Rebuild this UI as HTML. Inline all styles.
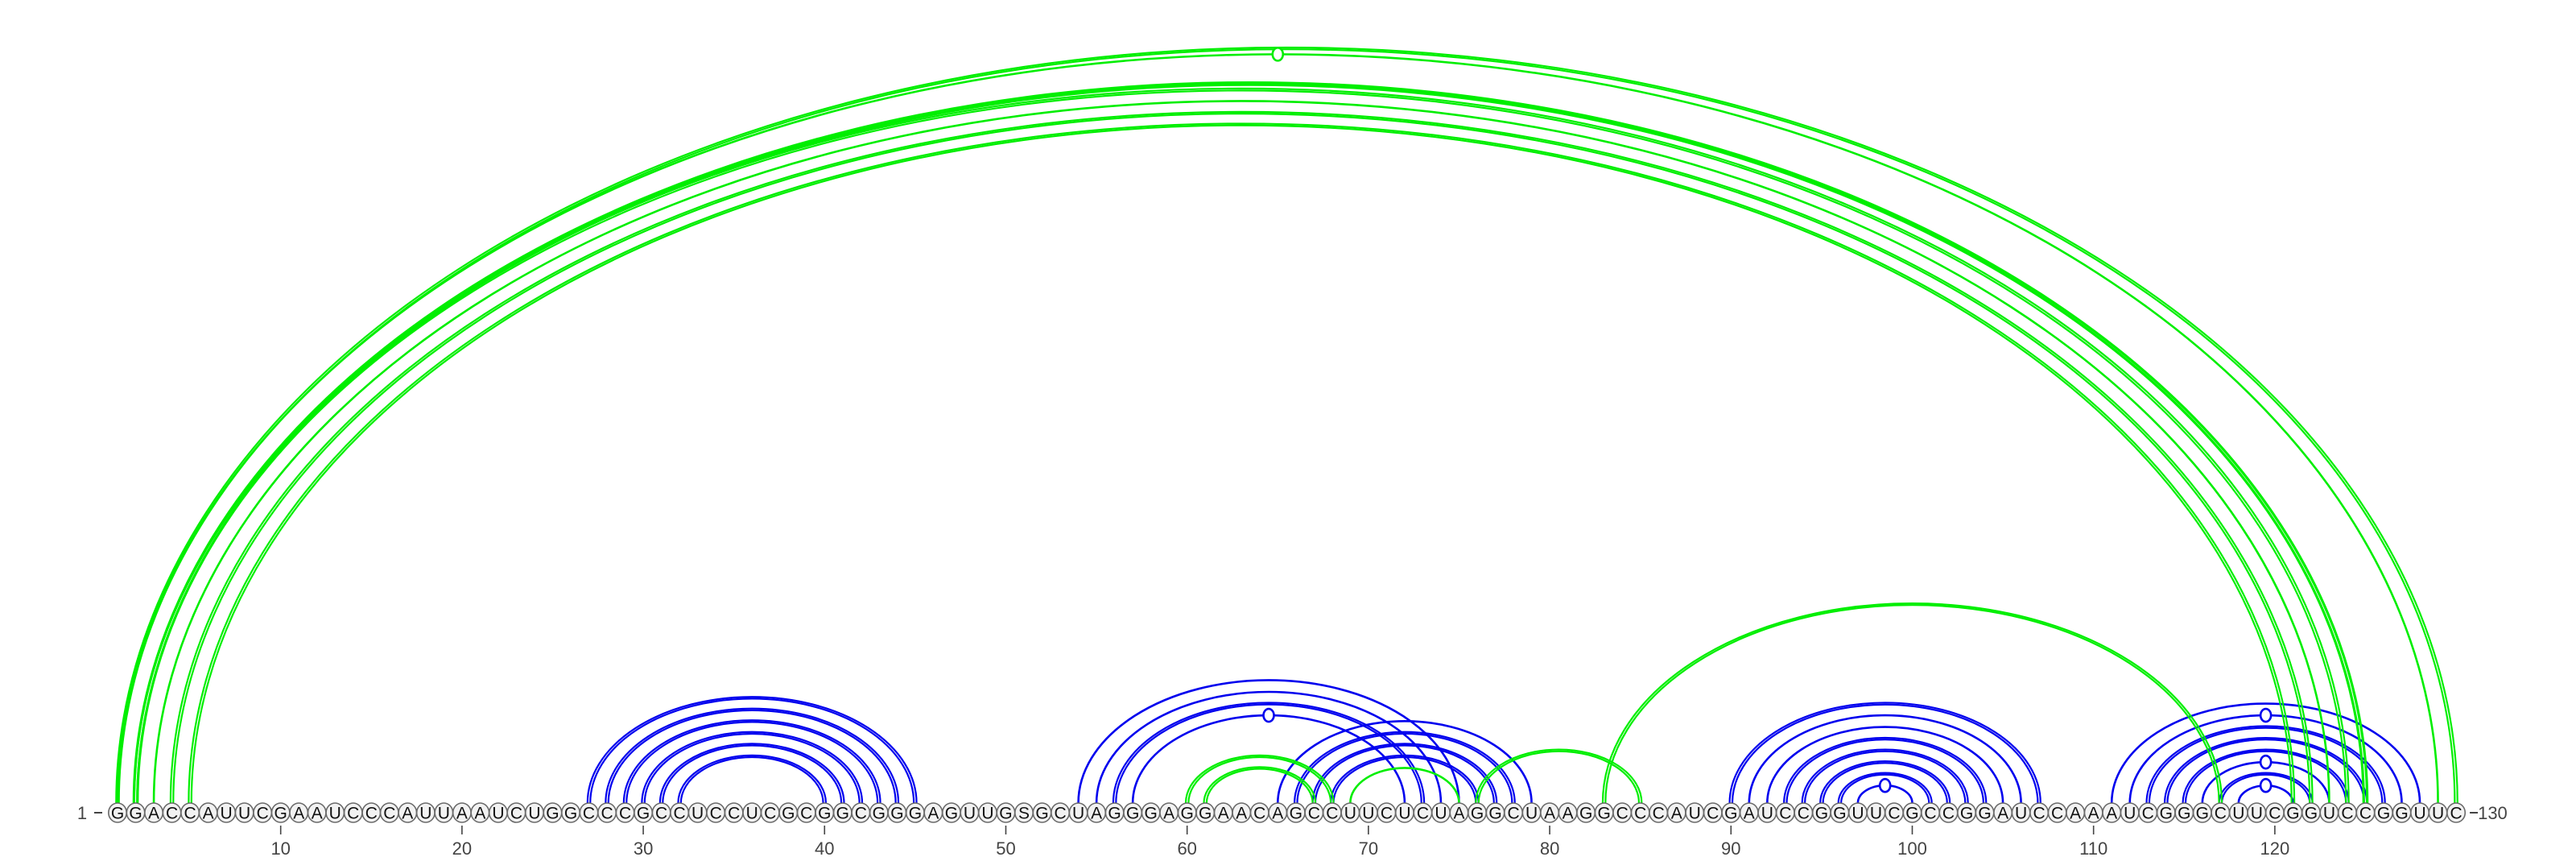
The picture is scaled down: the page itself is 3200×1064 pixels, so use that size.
<!DOCTYPE html>
<html><head><meta charset="utf-8"><style>
html,body{margin:0;padding:0;background:#fff;}
svg{display:block;}
text{font-family:"Liberation Sans","DejaVu Sans",sans-serif;}
</style></head><body>
<svg id="chart" width="3200" height="1064" viewBox="0 0 3200 1064" xmlns="http://www.w3.org/2000/svg">
<g id="arcs"></g>
<g id="bases"></g>
<g id="axis"></g>
</svg>
<script>
const sequence = "GGACCAUUCGAAUCCCAUUAAUCUGGCCCGCCUCCUCGCGGCGGGAGUUGSGCUAGGGAGGAACAGCCUUCUCUAGGCUAAGGCCCAUCGAUCCGGUUCGCCGGAUCCAAAUCGGGCUUCGGUCCGGUUC";
// pairs: [i, j, style]  style: s=single, d=double, t=thick, m=single with loop marker
const bluePairs = [
 [27,45,'d'],[28,44,'d'],[29,43,'d'],[30,42,'d'],[31,41,'d'],[32,40,'d'],
 [54,75,'s'],[55,74,'s'],[56,73,'d'],[57,72,'m'],
 [65,79,'s'],[66,78,'d'],[67,77,'d'],[68,76,'d'],
 [90,107,'d'],[91,106,'s'],[92,105,'s'],[93,104,'d'],[94,103,'d'],[95,102,'d'],[96,101,'d'],[97,100,'m'],
 [111,128,'s'],[112,127,'m'],[113,126,'d'],[114,125,'d'],[115,124,'d'],[116,123,'m'],[117,122,'d'],[118,121,'m']
];
const greenPairs = [
 [1,130,'d'],[1,129,'m'],[2,125,'t'],[2,124,'d'],[3,123,'s'],[4,122,'d'],[5,121,'d'],
 [60,68,'d'],[61,67,'d'],[69,75,'s'],[76,85,'d'],[83,117,'d']
];
const tickPositions = [10,20,30,40,50,60,70,80,90,100,110,120];

const NS="http://www.w3.org/2000/svg";
const X0=146, DX=22.52, BY=1009, TOP=997;
function xPos(i){return X0+(i-1)*DX;}
function mk(tag,attrs,parent){const e=document.createElementNS(NS,tag);for(const k in attrs)e.setAttribute(k,attrs[k]);parent.appendChild(e);return e;}
const arcsG=document.getElementById('arcs');
function arcRy(rx){return 0.645*rx;}
function arcPath(x1,x2){const rx=(x2-x1)/2;const ry=arcRy(rx);return `M${x1},${TOP} A${rx},${ry} 0 0 1 ${x2},${TOP}`;}
function drawPair(p,color){
  const [i,j,st]=p;const x1=xPos(i),x2=xPos(j);
  const g=mk('g',{},arcsG);
  
  
  if(st==='s'||st==='m'){
    mk('path',{d:arcPath(x1,x2),fill:'none',stroke:color,'stroke-width':2.6},g);
    if(st==='m'){const rx=(x2-x1)/2;const ry=arcRy(rx);
      const c=mk('ellipse',{cx:(x1+x2)/2,cy:TOP-ry,rx:6.5,ry:8,fill:'#fff',stroke:color,'stroke-width':2.6},g);
      
      }
  } else {
    const o = st==='t'?2.2:1.7; const w = st==='t'?3.2:2.2;
    mk('path',{d:arcPath(x1-o,x2+o),fill:'none',stroke:color,'stroke-width':w},g);
    mk('path',{d:arcPath(x1+o,x2-o),fill:'none',stroke:color,'stroke-width':w},g);
  }
}
bluePairs.forEach(p=>drawPair(p,'#0000ee'));
greenPairs.forEach(p=>drawPair(p,'#00ee00'));

const basesG=document.getElementById('bases');
for(let k=0;k<sequence.length;k++){
  const x=xPos(k+1);
  const g=mk('g',{},basesG);
  
  
  mk('ellipse',{cx:x,cy:BY,rx:11.2,ry:12,fill:'#f2f2f2',stroke:'#6a6a6a','stroke-width':1.6},g);
  const t=mk('text',{x:x,y:BY+7.5,'text-anchor':'middle','font-size':21,fill:'#111'},g);
  t.textContent=sequence[k];
}
const axisG=document.getElementById('axis');
const s1=mk('text',{x:102,y:BY+8,'text-anchor':'middle','font-size':22,fill:'#444'},axisG);
s1.textContent='1';


mk('line',{x1:117,x2:127,y1:BY,y2:BY,stroke:'#444','stroke-width':2},axisG);
const xe=xPos(sequence.length);
mk('line',{x1:xe+17,x2:xe+27,y1:BY,y2:BY,stroke:'#444','stroke-width':2},axisG);
const s2=mk('text',{x:xe+27,y:BY+8,'text-anchor':'start','font-size':22,fill:'#444'},axisG);
s2.textContent='130';


tickPositions.forEach(p=>{
  const x=xPos(p);
  mk('line',{x1:x,x2:x,y1:1025,y2:1036,stroke:'#444','stroke-width':1.6},axisG);
  const t=mk('text',{x:x,y:1061,'text-anchor':'middle','font-size':22,fill:'#444'},axisG);
  t.textContent=String(p);
  
  
});
</script>
</body></html>
